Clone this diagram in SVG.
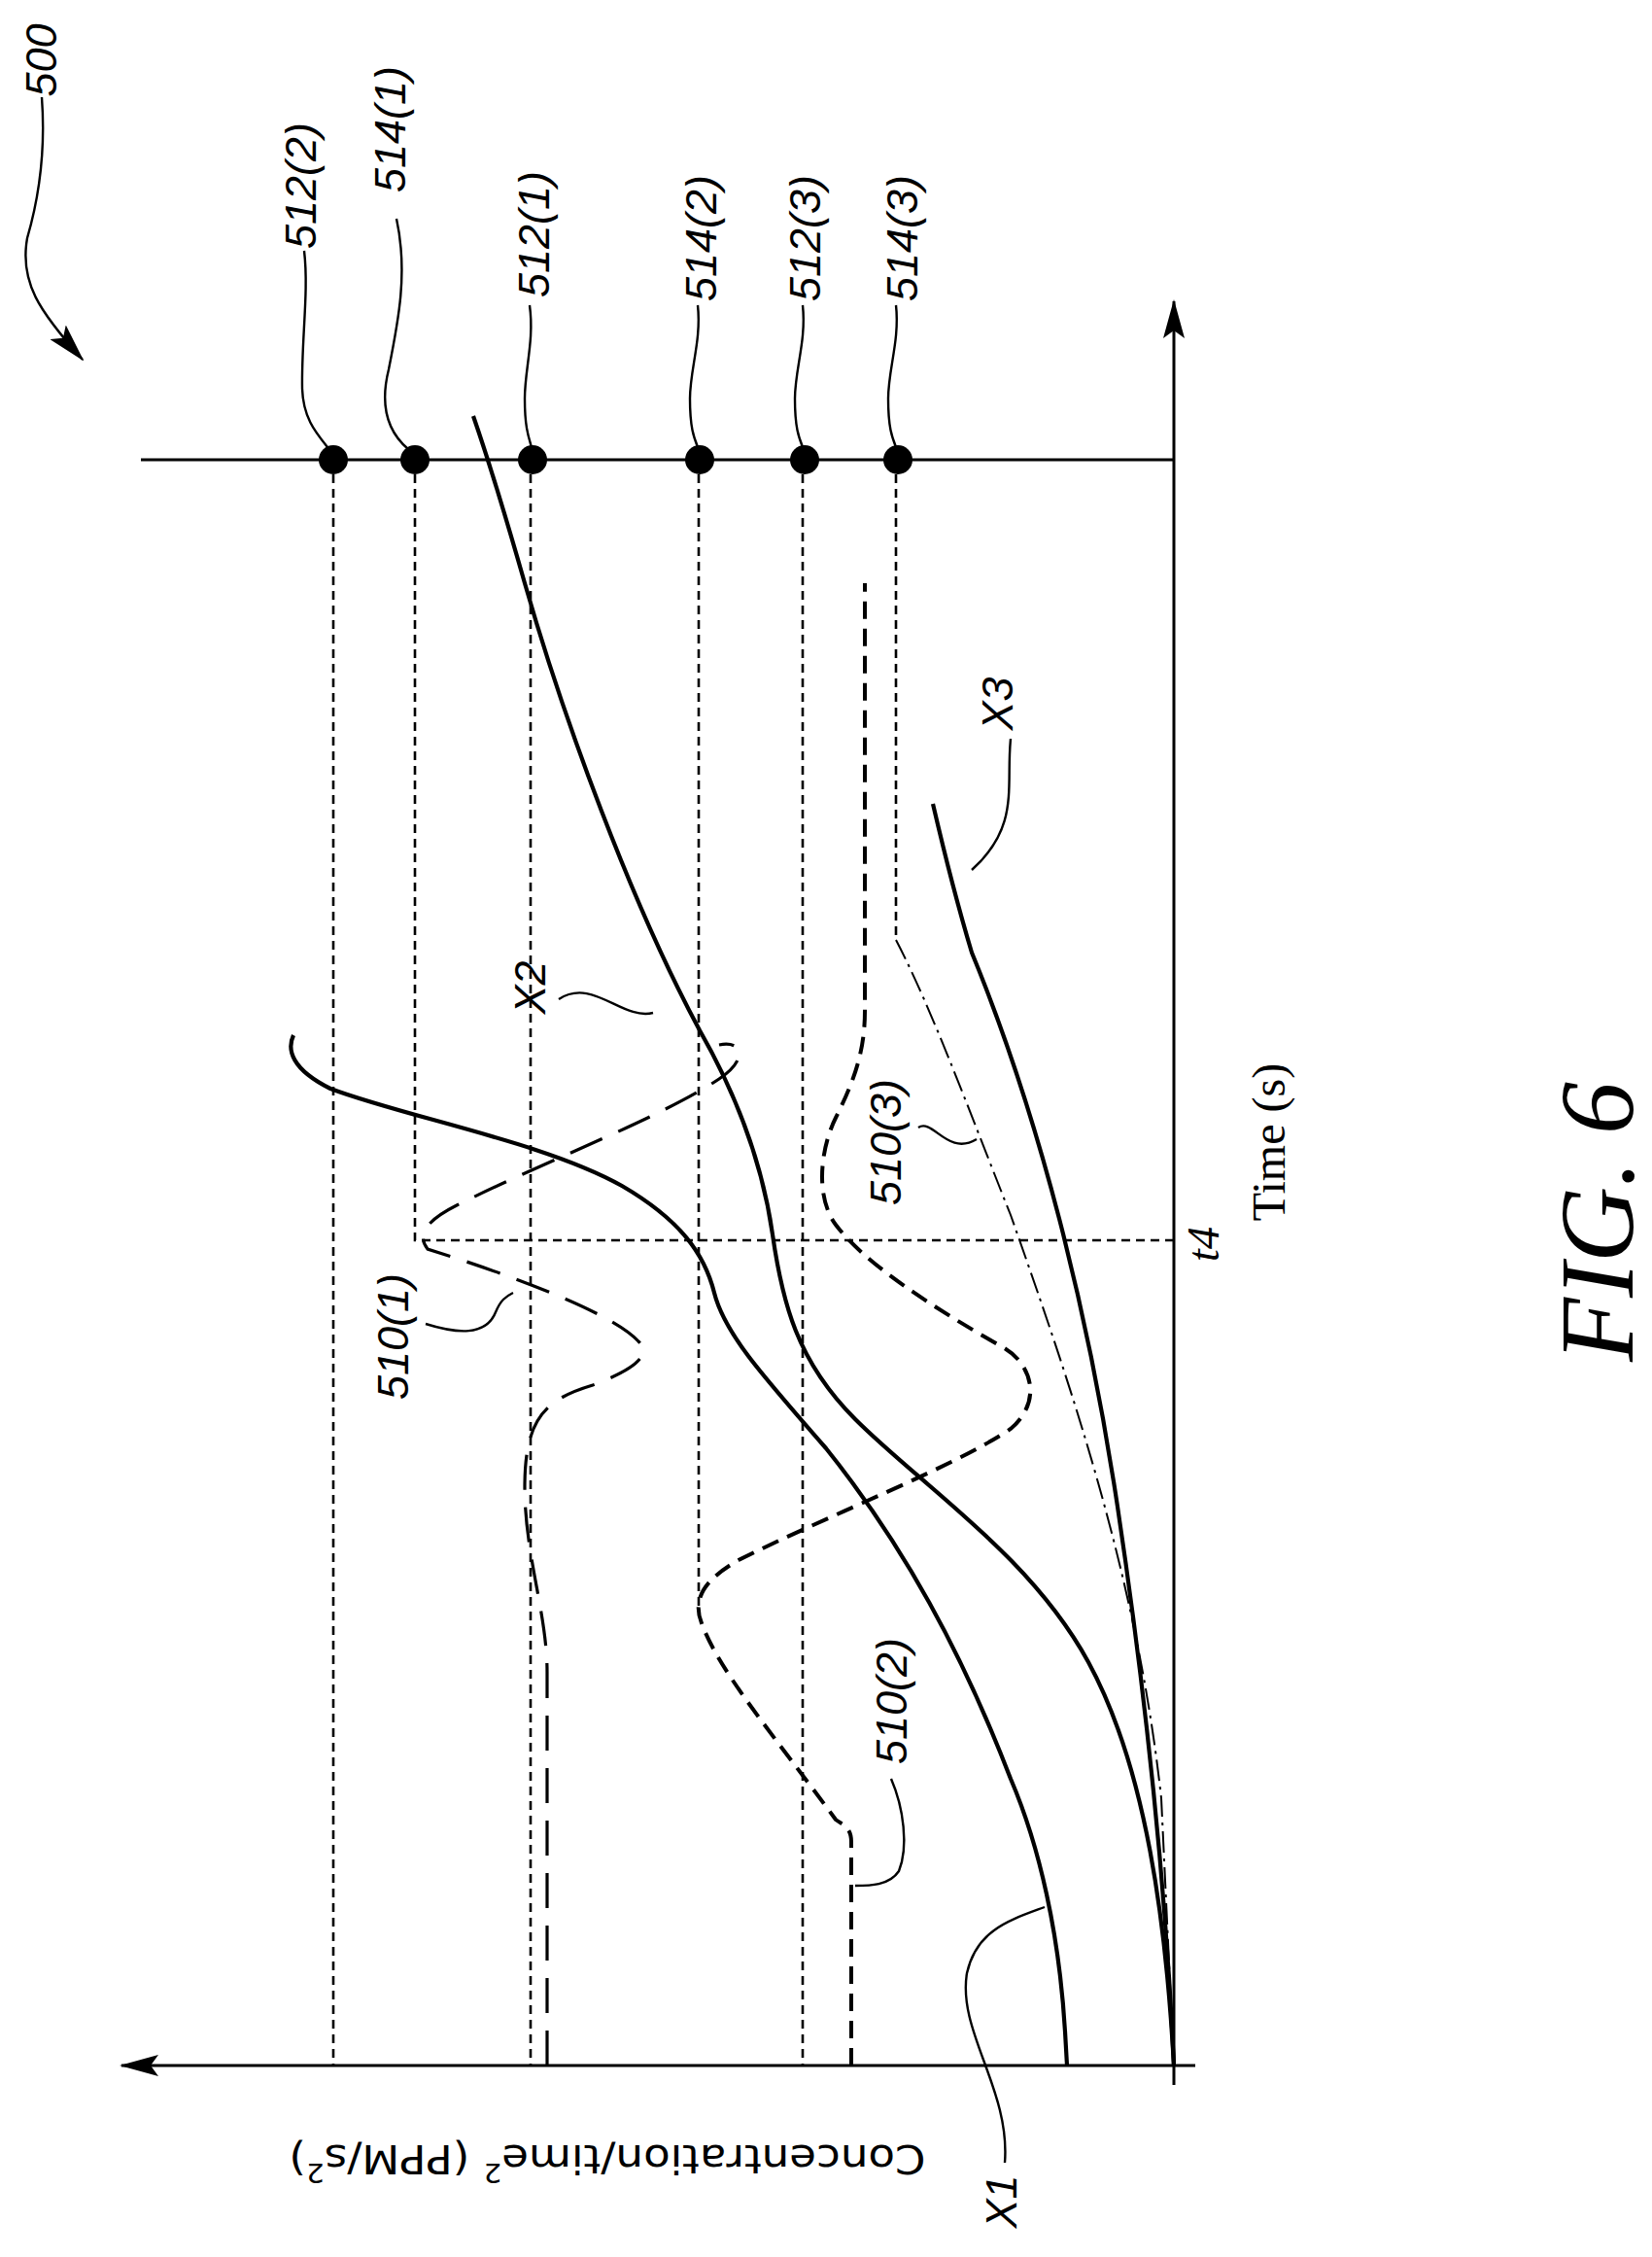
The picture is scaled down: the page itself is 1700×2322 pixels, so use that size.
<svg xmlns="http://www.w3.org/2000/svg" width="1700" height="2322" viewBox="0 0 1700 2322">
<style>
.ln{fill:none;stroke:#000;stroke-width:3}
.sol{fill:none;stroke:#000;stroke-width:4.2}
.thin{fill:none;stroke:#000;stroke-width:2.4}
.sd{fill:none;stroke:#000;stroke-width:2.6;stroke-dasharray:9 6}
.ld{fill:none;stroke:#000;stroke-width:3.2;stroke-dasharray:36 18}
.md{fill:none;stroke:#000;stroke-width:4;stroke-dasharray:18 10}
.dd{fill:none;stroke:#000;stroke-width:2;stroke-dasharray:22 6 3 6}
.lab{font-family:"Liberation Sans",Arial,sans-serif;font-style:italic;font-size:45px;text-anchor:middle;dominant-baseline:central}
.ser{font-family:"Liberation Serif","Times New Roman",serif;text-anchor:middle;dominant-baseline:central}
</style>
<defs>
<marker id="ab" markerWidth="40" markerHeight="22" refX="38" refY="11" orient="auto" markerUnits="userSpaceOnUse" viewBox="0 0 40 22"><path d="M0,0 L40,11 L0,22 L8,11 Z"/></marker>
</defs>
<rect width="1700" height="2322" fill="#fff"/>
<g id="axes">
<path class="ln" d="M1208,2145 L1208,310" marker-end="url(#ab)"/>
<path class="ln" d="M1230,2125 L125,2125" marker-end="url(#ab)"/>
<path class="ln" d="M145,473 L1208,473"/>
</g>
<g id="connectors">
<path class="sd" d="M343,473 L343,2125"/>
<path class="sd" d="M427,473 L427,1276 L1208,1276"/>
<path class="sd" d="M546,473 L546,2125"/>
<path class="sd" d="M719,473 L719,1655"/>
<path class="sd" d="M826,473 L826,2125"/>
<path class="sd" d="M922,473 L922,967"/>
<path class="ld" d="M563,2125 L563,1720 C563,1660 540,1600 540,1530 C540,1460 560,1440 610,1425 C650,1410 672,1395 657,1380 C630,1350 520,1310 440,1285 C428,1270 440,1255 470,1240 C560,1195 680,1150 740,1110 C770,1090 765,1070 740,1075"/>
<path class="md" d="M876,2125 L876,1895 C876,1880 868,1878 860,1872 C800,1790 740,1720 722,1670 C712,1645 725,1625 760,1605 C850,1560 980,1510 1040,1470 C1075,1440 1060,1400 1030,1385 C960,1345 890,1300 860,1260 C838,1230 845,1180 860,1150 C880,1110 890,1080 890,1040 L890,600"/>
<path class="dd" d="M922,967 C960,1040 1000,1150 1040,1250 C1100,1420 1170,1620 1195,1850 L1208,2125"/>
<path class="sol" d="M1098,2125 L1096,2090 C1090,1990 1070,1900 1040,1830 C990,1700 930,1590 850,1490 C780,1410 745,1370 735,1330 C725,1290 700,1255 640,1220 C560,1175 420,1150 340,1120 C300,1100 295,1080 302,1065"/>
<path class="sol" d="M1208,2125 C1200,1980 1180,1820 1120,1710 C1060,1600 950,1530 880,1460 C820,1400 805,1340 795,1270 C785,1200 760,1130 720,1060 C650,930 580,740 540,600 C520,530 505,480 487,428"/>
<path class="sol" d="M1208,2125 C1200,1950 1180,1750 1150,1550 C1120,1350 1070,1150 1000,980 C985,930 970,870 960,827"/>
</g>
<g id="dots">
<circle cx="343" cy="473" r="15"/><circle cx="427" cy="473" r="15"/><circle cx="548" cy="473" r="15"/>
<circle cx="720" cy="473" r="15"/><circle cx="828" cy="473" r="15"/><circle cx="924" cy="473" r="15"/>
</g>
<g id="leaders">
<path class="thin" d="M313,258 C318,300 310,350 311,400 C312,430 325,445 337,460"/>
<path class="thin" d="M408,225 C420,280 410,330 400,380 C390,420 400,445 420,462"/>
<path class="thin" d="M545,314 C550,350 540,380 540,410 C540,440 544,450 547,460"/>
<path class="thin" d="M718,314 C722,350 710,380 710,410 C710,440 714,450 718,460"/>
<path class="thin" d="M826,314 C830,350 818,380 818,410 C818,440 822,450 826,460"/>
<path class="thin" d="M922,314 C926,350 914,380 914,410 C914,440 918,450 922,460"/>
<path class="thin" d="M43,100 C46,140 44,190 28,245 C20,290 40,320 85,370" marker-end="url(#ab)"/>
<path class="thin" d="M1034,2225 C1040,2150 985,2090 995,2030 C1005,1985 1040,1975 1075,1962"/>
<path class="thin" d="M575,1028 C610,1005 640,1050 672,1042"/>
<path class="thin" d="M1040,760 C1035,810 1050,850 1000,895"/>
<path class="thin" d="M438,1362 C470,1372 500,1375 510,1350 C515,1338 520,1334 528,1330"/>
<path class="thin" d="M917,1830 C930,1860 935,1900 925,1925 C915,1940 895,1940 880,1940"/>
<path class="thin" d="M945,1160 C960,1150 975,1190 1005,1172"/>
</g>
<g id="labels">
<text class="lab" x="42" y="62" transform="rotate(-90 42 62)">500</text>
<text class="lab" x="309" y="191" transform="rotate(-90 309 191)">512(2)</text>
<text class="lab" x="401" y="133" transform="rotate(-90 401 133)">514(1)</text>
<text class="lab" x="549" y="241" transform="rotate(-90 549 241)">512(1)</text>
<text class="lab" x="721" y="245" transform="rotate(-90 721 245)">514(2)</text>
<text class="lab" x="828" y="245" transform="rotate(-90 828 245)">512(3)</text>
<text class="lab" x="928" y="245" transform="rotate(-90 928 245)">514(3)</text>
<text class="lab" x="404" y="1375" transform="rotate(-90 404 1375)">510(1)</text>
<text class="lab" x="917" y="1750" transform="rotate(-90 917 1750)">510(2)</text>
<text class="lab" x="911" y="1175" transform="rotate(-90 911 1175)">510(3)</text>
<text class="lab" x="1030" y="2265" transform="rotate(-90 1030 2265)">X1</text>
<text class="lab" x="545" y="1016" transform="rotate(-90 545 1016)">X2</text>
<text class="lab" x="1026" y="724" transform="rotate(-90 1026 724)">X3</text>
<text class="ser" x="1238" y="1280" font-size="46" font-style="italic" transform="rotate(-90 1238 1280)">t4</text>
<text class="ser" x="1305" y="1175" font-size="48" transform="rotate(-90 1305 1175)">Time (s)</text>
<text class="ser" x="1643" y="1257" font-size="108" font-style="italic" transform="rotate(-90 1643 1257)">FIG. 6</text>
<text x="625" y="2221" font-family="'DejaVu Sans',sans-serif" font-size="40" text-anchor="middle" dominant-baseline="central" textLength="655" lengthAdjust="spacingAndGlyphs" transform="rotate(180 625 2221)">Concentration/time<tspan dy="-14" font-size="26">2</tspan><tspan dy="14"> (PPM/s</tspan><tspan dy="-14" font-size="26">2</tspan><tspan dy="14">)</tspan></text>
</g>
</svg>
